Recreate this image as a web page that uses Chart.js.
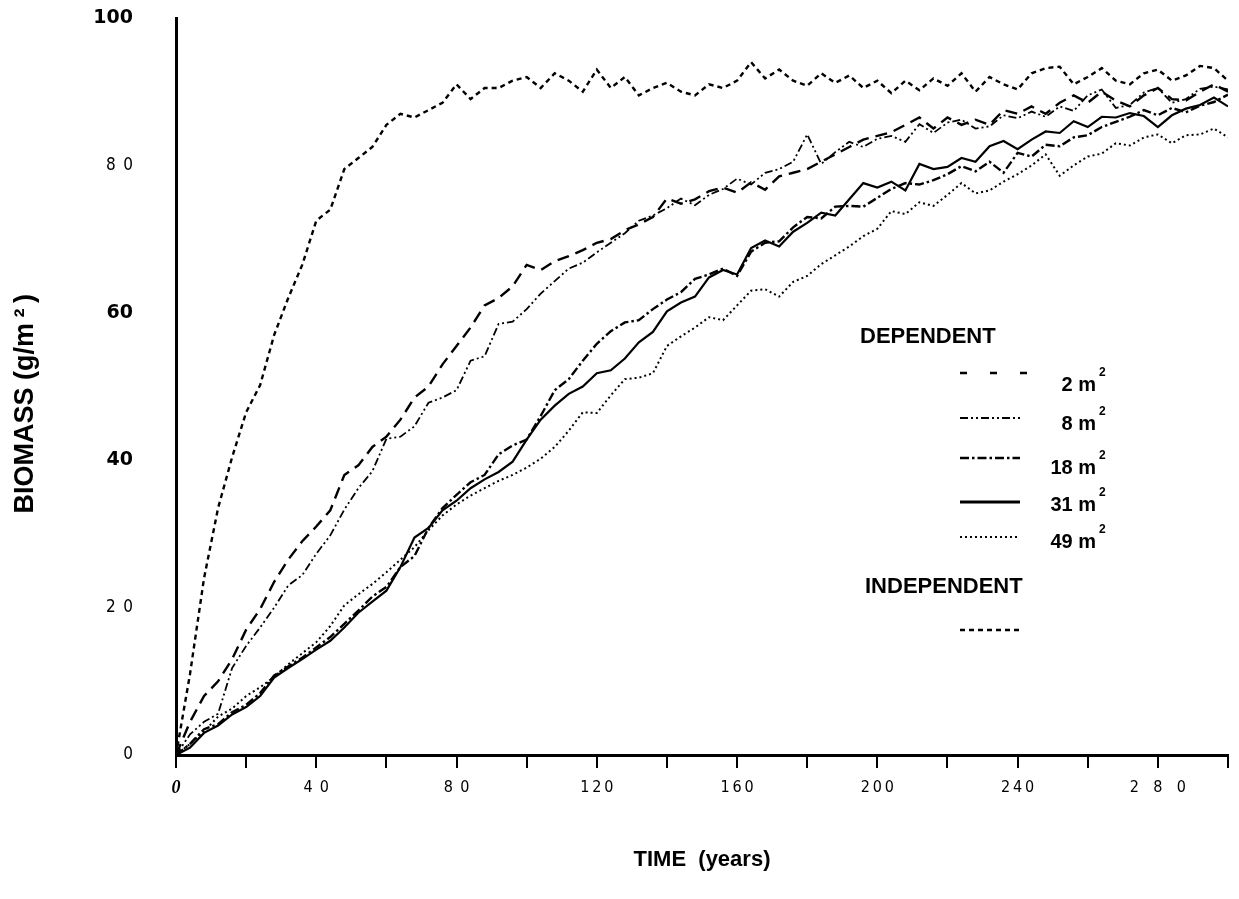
<!DOCTYPE html>
<html>
<head>
<meta charset="utf-8">
<script src="https://cdn.jsdelivr.net/npm/chart.js@4"></script>
<style>
  html, body { margin: 0; padding: 0; background: #fff; }
  #wrap { width: 1239px; height: 899px; position: relative; }
</style>
</head>
<body>
<div id="wrap"><canvas id="chart"></canvas></div>
<script>
// Time axis (years) - every 4 years
const years = [0,4,8,12,16,20,24,28,32,36,
  40,44,48,52,56,60,64,68,72,76,
  80,84,88,92,96,100,104,108,112,116,
  120,124,128,132,136,140,144,148,152,156,
  160,164,168,172,176,180,184,188,192,196,
  200,204,208,212,216,220,224,228,232,236,
  240,244,248,252,256,260,264,268,272,276,
  280,284,288,292,296,300];

// Biomass (g/m2)
const independent = [0,11,24,33.5,40.4,46.5,50.2,57,62,66.5,
  72.5,74,79.5,81,82.5,85.5,87,86.5,87.5,88.5,
  91,89,90.5,90.5,91.5,92,90.5,92.5,91.5,90,
  93,90.5,92,89.5,90.5,91.2,90,89.5,91,90.5,
  91.5,94,91.8,93,91.5,90.8,92.5,91.2,92.2,90.5,
  91.5,89.8,91.5,90.2,91.8,90.8,92.5,90,92,91,
  90.3,92.5,93.2,93.4,91,92,93.2,91.5,91,92.5,
  93,91.5,92.2,93.5,93.2,91.5];
const dep2 = [0,4.5,8,10,13,17,19.8,23.5,26.5,29,
  31,33.2,38,39.3,41.8,43.2,45.5,48.5,50,53,
  55.5,58,61,62,63.6,66.5,65.8,67,67.7,68.5,
  69.5,70,71.2,72,73,75.5,74.8,75.4,76.5,77,
  76.3,77.7,76.7,78.5,79,79.5,80.5,81.5,82.5,83.5,
  84,84.5,85.5,86.5,85,86.5,85.5,86.2,85.5,87.5,
  87,88,87,88.5,89.5,88.5,90,88.8,88,89.5,
  90.5,89,88.8,90,91,90];
const dep8 = [0,2.8,4.5,5.6,11.8,14.8,17.3,20,23,24.4,
  27.3,29.8,33.3,36.2,38.5,42.9,43.2,44.6,47.8,48.5,
  49.5,53.5,54.1,58.5,58.8,60.5,62.6,64.3,66,66.8,
  68.2,69.5,70.8,72.5,73.2,74.2,75.5,74.6,76,76.8,
  78.2,77.4,79,79.5,80.5,84.2,80.2,81.8,83.2,82.5,
  83.6,84,83.2,85.6,84.4,85.8,86.2,85,85.3,86.8,
  86.4,87.3,86.6,88,87.4,89.5,90.3,87.8,88.2,89.9,
  90.5,88.5,89,90.4,90.7,90.3];
const dep18 = [0,1.5,3.5,4.2,5.8,6.8,8.4,10.8,12,13.2,
  14.6,16,17.8,19.6,21.5,22.8,25.5,27,30.8,33.5,
  35.3,37,38,40.8,42,42.8,46,49.5,51,53.5,
  55.8,57.5,58.7,59,60.5,61.8,62.8,64.6,65.2,66,
  65,68.3,69.5,69.7,71.6,73,72.8,74.4,74.5,74.4,
  75.6,76.8,77.6,77.4,78,78.8,79.9,79.2,80.5,79,
  81.7,81.2,82.8,82.6,83.8,84.1,85.2,85.9,86.6,87.5,
  86.8,87.8,87.2,88.1,88.6,89.6];
const dep31 = [0,1,3,4,5.5,6.5,8,10.5,11.8,13,
  14.3,15.5,17.3,19.3,20.8,22.3,25.5,29.5,30.8,33.2,
  34.5,36.2,37.4,38.4,39.8,42.8,45.5,47.4,49,50,
  51.8,52.2,53.8,56,57.4,60.2,61.4,62.2,64.8,65.8,
  65.2,68.8,69.8,69,71,72.2,73.6,73.2,75.4,77.6,
  77,77.8,76.6,80.2,79.5,79.8,81,80.5,82.6,83.3,
  82.2,83.5,84.6,84.4,86,85.2,86.6,86.5,87.1,86.7,
  85.2,86.8,87.7,88.2,89.2,88];
const dep49 = [0,1.5,3.2,5.2,6.3,8,9.2,10.6,12.3,13.8,
  15.3,17.5,20.3,21.8,23.2,24.8,26.5,28.2,30.5,32.5,
  34,35.2,36.2,37.2,38,39,40.2,41.8,44,46.5,
  46.4,48.8,51,51.2,51.8,55.5,56.8,58,59.4,59,
  61,63,63.2,62.2,64.2,65,66.6,67.8,69,70.4,
  71.4,73.8,73.4,75,74.5,76,77.6,76.2,76.6,77.8,
  78.8,80,81.5,78.6,80,81.2,81.6,83,82.7,83.8,
  84.2,83,84.1,84.2,85,83.8];

const seriesNames = ['2 m', '8 m', '18 m', '31 m', '49 m', 'INDEPENDENT'];
const groupTitles = ['DEPENDENT', 'INDEPENDENT'];

// tick labels as printed on the figure
const yTickValues = [0, 20, 40, 60, 80, 100];
const yTickText = ['0', '2\u20020', '40', '60', '8\u20020', '100'];
const xTickValues = [0, 40, 80, 120, 160, 200, 240, 280];
const xTickText = ['0', '4\u20020', '8\u20020', '1\u20092\u20090', '1\u20096\u20090', '2\u20090\u20090', '2\u20094\u20090', '2\u2002\u20028\u2002\u20020'];

const SANS = '"Liberation Sans", Arial, sans-serif';
const WIDE = '"DejaVu Sans", Verdana, sans-serif';
const NARROW = '"DejaVu Sans Condensed", "Liberation Sans Narrow", sans-serif';

const pts = vals => years.map((t, i) => ({ x: t, y: vals[i] }));

const styles = [
  { dash: [12, 7], width: 2.4, key: [7, 23], keyEnd: 1028 },  // 2 m2
  { dash: [8, 3, 2, 3, 2, 3], width: 1.8 },                   // 8 m2
  { dash: [9, 3, 2.5, 3], width: 2.4 },                       // 18 m2
  { dash: [], width: 2.2, keyWidth: 3 },                      // 31 m2
  { dash: [2, 3], width: 2 },                                 // 49 m2
  { dash: [5, 4], width: 2.4 }                                // independent
];

const allSeries = [dep2, dep8, dep18, dep31, dep49, independent];

const datasets = allSeries.map((vals, i) => ({
  label: seriesNames[i],
  data: pts(vals),
  borderColor: '#000',
  borderWidth: styles[i].width,
  borderDash: styles[i].dash,
  pointRadius: 0,
  tension: 0,
  fill: false
}));

// legend drawn inside the plot, like the original figure
const legendPlugin = {
  id: 'figLegend',
  afterDatasetsDraw(chart) {
    const ctx = chart.ctx;
    ctx.save();
    ctx.fillStyle = '#000';
    ctx.strokeStyle = '#000';
    ctx.textBaseline = 'middle';
    ctx.font = 'bold 22px ' + SANS;
    ctx.fillText(groupTitles[0], 860, 337);
    ctx.fillText(groupTitles[1], 865, 587);

    const rows = [373, 418, 458, 502, 537, 630];
    const labelY = [385, 424, 468, 505, 542];
    rows.forEach((y, i) => {
      ctx.beginPath();
      ctx.lineWidth = styles[i].keyWidth || styles[i].width;
      ctx.setLineDash(styles[i].key || styles[i].dash);
      ctx.moveTo(960, y);
      ctx.lineTo(styles[i].keyEnd || 1020, y);
      ctx.stroke();
    });
    ctx.setLineDash([]);
    ctx.textAlign = 'right';
    for (let i = 0; i < 5; i++) {
      ctx.font = 'bold 20px ' + SANS;
      ctx.fillText(seriesNames[i], 1096, labelY[i]);
      ctx.font = 'bold 12px ' + SANS;
      ctx.textAlign = 'left';
      ctx.fillText('2', 1099, labelY[i] - 12);
      ctx.textAlign = 'right';
    }
    ctx.restore();
  }
};

new Chart(document.getElementById('chart'), {
  type: 'line',
  data: { datasets: datasets },
  plugins: [legendPlugin],
  options: {
    responsive: true,
    maintainAspectRatio: false,
    animation: false,
    layout: { padding: { left: 0, right: 11, top: 18, bottom: 0 } },
    plugins: {
      legend: { display: false },
      tooltip: { enabled: false }
    },
    scales: {
      x: {
        type: 'linear',
        min: 0,
        max: 300,
        afterFit: s => { s.height = 144; },
        grid: { drawOnChartArea: false, drawTicks: true, tickLength: 13, color: '#000', lineWidth: 2 },
        border: { display: true, color: '#000', width: 3 },
        ticks: {
          stepSize: 20,
          autoSkip: false,
          maxRotation: 0,
          padding: 10,
          color: '#000',
          font: ctx => ctx.tick && ctx.tick.value === 0
            ? { family: '"Liberation Serif", "Times New Roman", serif', size: 18, weight: 'bold', style: 'italic' }
            : { family: NARROW, size: 16 },
          callback: v => {
            const k = xTickValues.indexOf(v);
            return k >= 0 ? xTickText[k] : '';
          }
        },
        title: {
          display: true,
          text: 'TIME  (years)',
          color: '#000',
          font: { family: SANS, size: 22, weight: 'bold' },
          padding: { top: 0, bottom: 26 }
        }
      },
      y: {
        min: 0,
        max: 100,
        afterFit: s => { s.width = 176; },
        // invisible tick marks give the gap between labels and axis
        grid: { drawOnChartArea: false, drawTicks: true, tickLength: 43, tickColor: 'rgba(0,0,0,0)' },
        border: { display: true, color: '#000', width: 3 },
        ticks: {
          stepSize: 20,
          padding: 0,
          color: '#000',
          font: ctx => {
            const v = ctx.tick ? ctx.tick.value : 0;
            return (v === 40 || v === 60 || v === 100)
              ? { family: WIDE, size: 19, weight: 'bold' }
              : { family: NARROW, size: 17 };
          },
          callback: v => {
            const k = yTickValues.indexOf(v);
            return k >= 0 ? yTickText[k] : '';
          }
        },
        title: {
          display: true,
          text: 'BIOMASS (g/m\u2009\u00b2\u2009)\u2003 ',
          color: '#000',
          font: { family: SANS, size: 27, weight: 'bold' },
          padding: { top: 9, bottom: 0 }
        }
      }
    }
  }
});
</script>
</body>
</html>
